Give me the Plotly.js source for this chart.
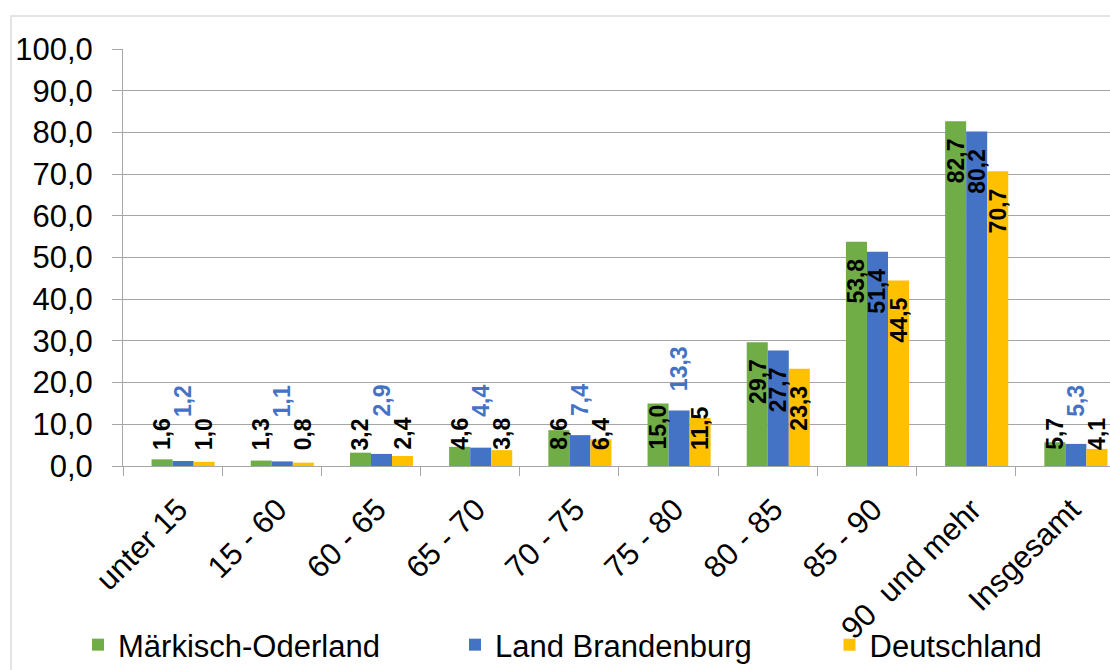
<!DOCTYPE html>
<html>
<head>
<meta charset="utf-8">
<script src="https://cdn.plot.ly/plotly-3.0.1.min.js"></script>
<style>
  body { margin: 0; background: #ffffff; }
  #wrap { position: relative; width: 1110px; height: 670px; overflow: hidden; }
  #frame { position: absolute; left: 10px; top: 15px; width: 1200px; height: 720px; border: 2px solid #e4e4e4; }
  #chart { position: absolute; left: 0; top: 0; width: 1110px; height: 670px; }
</style>
</head>
<body>
<div id="wrap"><div id="frame"></div><div id="chart"></div></div>
<script>
// ---- data ----
const categories = ['unter 15', '15 - 60', '60 - 65', '65 - 70', '70 - 75', '75 - 80', '80 - 85', '85 - 90', '90\u00a0 und mehr', 'Insgesamt'];
const maerkischOderland = [1.6, 1.3, 3.2, 4.6, 8.6, 15.0, 29.7, 53.8, 82.7, 5.7];
const landBrandenburg   = [1.2, 1.1, 2.9, 4.4, 7.4, 13.3, 27.7, 51.4, 80.2, 5.3];
const deutschland       = [1.0, 0.8, 2.4, 3.8, 6.4, 11.5, 23.3, 44.5, 70.7, 4.1];
const seriesNames = ['Märkisch-Oderland', 'Land Brandenburg', 'Deutschland'];
const yTickValues = [0, 10, 20, 30, 40, 50, 60, 70, 80, 90, 100];

// ---- style ----
const FONT = 'Liberation Sans, Arial, sans-serif';
const colors = ['#70AD47', '#4472C4', '#FFC000'];
const BAR_W = 0.212;
const offsets = [-BAR_W, 0, BAR_W];
const legendIds = ['legend', 'legend2', 'legend3'];
const legendX = [0.0703, 0.4099, 0.7473];
const seriesValues = [maerkischOderland, landBrandenburg, deutschland];

const fmt = v => v.toFixed(1).replace('.', ',');

const traces = seriesValues.map((vals, s) => ({
  type: 'bar',
  name: seriesNames[s],
  x: categories,
  y: vals,
  width: BAR_W,
  offset: offsets[s],
  legend: legendIds[s],
  marker: { color: colors[s], line: { width: 0 } },
  hoverinfo: 'skip'
}));

const annotations = [];
seriesValues.forEach((vals, s) => {
  vals.forEach((v, i) => {
    const outside = (s === 1 && v < 20);
    const a = {
      x: i + offsets[s] + BAR_W / 2, xref: 'x', yref: 'y',
      text: fmt(v), textangle: -90, showarrow: false, borderpad: 0,
      font: { family: FONT, size: 23, color: outside ? '#4472C4' : '#000000', weight: 'bold' }
    };
    if (outside) { a.y = Math.max(v, 7.2); a.yanchor = 'bottom'; a.yshift = 18; }
    else if (v >= 18) { a.y = v; a.yanchor = 'top'; a.yshift = -16; }
    else { a.y = 3.6; a.yanchor = 'bottom'; }
    annotations.push(a);
  });
});

const layout = {
  width: 1110, height: 670,
  margin: { l: 123, r: 0, t: 49, b: 204, pad: 0 },
  paper_bgcolor: 'rgba(0,0,0,0)',
  plot_bgcolor: 'rgba(0,0,0,0)',
  separators: ', ',
  barmode: 'overlay',
  font: { family: FONT, size: 31, color: '#000000' },
  showlegend: true,
  xaxis: {
    type: 'category',
    range: [-0.5, 9.45],
    automargin: false,
    showline: true, linecolor: '#a6a6a6', linewidth: 1,
    ticks: 'outside', tickson: 'boundaries', ticklen: 9, tickcolor: '#a6a6a6',
    tickangle: -45,
    ticklabelstandoff: 12,
    ticklabelshift: 6,
    tickfont: { family: FONT, size: 31, color: '#000000' },
    showgrid: false, fixedrange: true
  },
  yaxis: {
    range: [0, 100],
    automargin: false,
    tickvals: yTickValues,
    tickformat: '.1f',
    showline: true, linecolor: '#a6a6a6', linewidth: 1,
    ticks: 'outside', ticklen: 10, tickcolor: '#a6a6a6',
    ticklabelstandoff: 13,
    gridcolor: '#a6a6a6', gridwidth: 1,
    zeroline: false,
    tickfont: { family: FONT, size: 31, color: '#000000' },
    fixedrange: true
  },
  annotations: annotations
};

legendIds.forEach((id, s) => {
  layout[id] = {
    orientation: 'h', xref: 'container', yref: 'container',
    x: legendX[s], xanchor: 'left', y: 0.0373, yanchor: 'middle',
    font: { family: FONT, size: 31, color: '#000000' },
    bgcolor: 'rgba(0,0,0,0)', borderwidth: 0
  };
});

Plotly.newPlot('chart', traces, layout, { displayModeBar: false, staticPlot: true });
</script>
</body>
</html>
